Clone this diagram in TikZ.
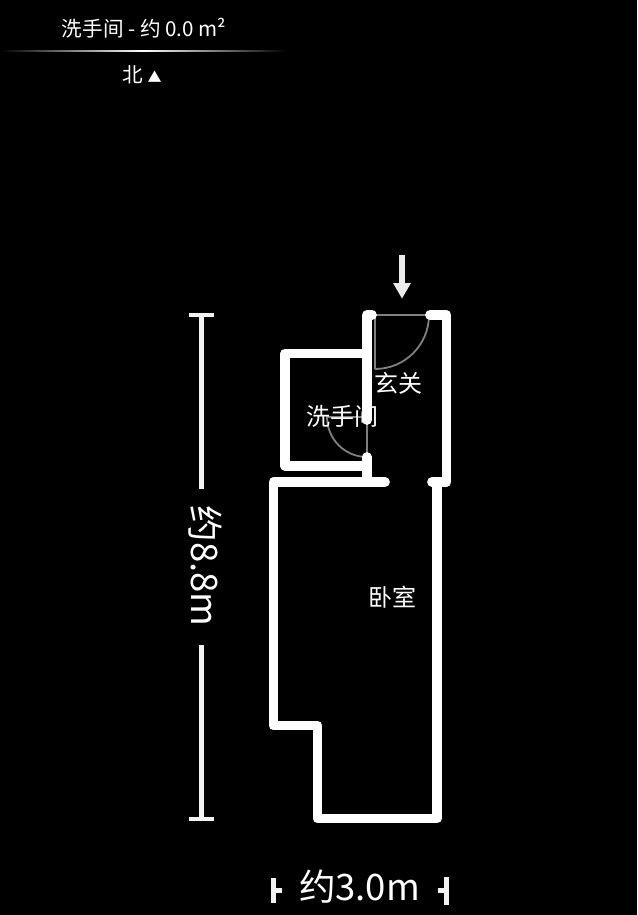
\documentclass[tikz,border=0pt]{standalone}
\usepackage{fontspec}
\setmainfont{Noto Sans CJK SC}
\usetikzlibrary{shadings}

\begin{document}
\begin{tikzpicture}[x=1pt,y=-1pt]

      \tikzstyle{wall}=[draw=white,line width=9.8pt,line cap=round,line join=round]
      \tikzstyle{door}=[draw=gray,line width=1.8pt]
      \tikzstyle{dim}=[draw=white!95!black,line width=4.5pt]
      \tikzstyle{room}=[text=white,font=\fontsize{24}{26}\selectfont,inner sep=0pt]
      \tikzstyle{dimtext}=[text=white,font=\fontsize{36.5}{38}\selectfont,inner sep=0pt]
      \tikzstyle{head}=[text=white,font=\fontsize{20.6}{24}\selectfont,inner sep=0pt]

      \fill[black] (0,0) rectangle (637,915);
      \useasboundingbox (0,0) rectangle (637,915);

      %header
      \node[head] (title) at (144,28) {洗手间 - 约 0.0 m²};
      \shade[left color=black,right color=black,middle color=white]
          (0,51) rectangle (286,52);
      \node[head] (north) at (142,75) {北 {\fontsize{14}{14}\selectfont ▲}};

      %doors
      \draw[door] (375,369) -- (375,315) -- (429,315)
          arc[start angle=0,end angle=90,radius=54pt,y radius=-54pt];
      \draw[door] (367,457) -- (367,417) -- (327,417)
          arc[start angle=180,end angle=90,radius=40pt,y radius=-40pt];

      %walls
      \draw[wall] (372,315) -- (367,315) -- (367,420);
      \draw[wall] (430,315) -- (446.5,315) -- (446.5,482) -- (432,482);
      \draw[wall] (367,353.5) -- (285,353.5) -- (285,466) -- (367,466);
      \draw[wall] (367,457) -- (367,482);
      \draw[wall] (385,482) -- (273.5,482) -- (273.5,725.5) -- (317.5,725.5)
          -- (317.5,818.5) -- (437,818.5) -- (437,482);

      %entrance
      \draw[draw=white!92!black,line width=6.5pt] (402,255) -- (402,288);
      \fill[white!92!black] (393,283) -- (411,283) -- (402,298.5) -- cycle;

      %rooms
      \node[room] (hall) at (398.5,383) {玄关};
      \node[room] (bath) at (342,416) {洗手间};
      \node[room] (bed) at (392.5,597) {卧室};

      %dimensions
      \draw[dim] (189,315) -- (213.5,315);
      \draw[dim] (201.5,315) -- (201.5,489);
      \draw[dim] (201.5,645) -- (201.5,819);
      \draw[dim] (189,819) -- (213.5,819);
      \node[dimtext,rotate=-90] (height) at (205,566) {约8.8m};

      \draw[dim] (273.5,878) -- (273.5,903);
      \draw[dim] (273.5,890.5) -- (282,890.5);
      \draw[dim] (446.5,877) -- (446.5,905);
      \draw[dim] (446.5,890.5) -- (438,890.5);
      \node[dimtext] (width) at (359.5,887) {约3.0m};

\end{tikzpicture}
\end{document}
